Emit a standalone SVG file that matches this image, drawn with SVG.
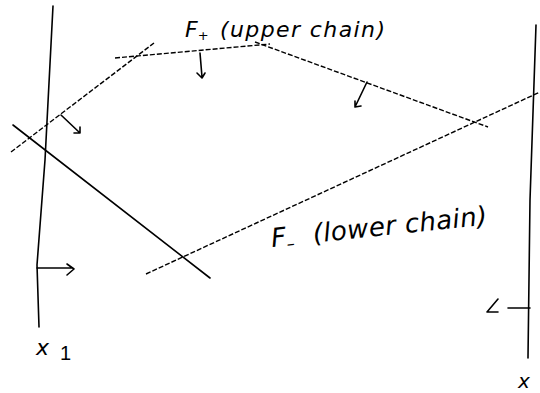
<svg xmlns="http://www.w3.org/2000/svg" width="540" height="393" viewBox="0 0 540 393">
<style>
.s{fill:none;stroke:#000;stroke-width:1.6;stroke-linecap:round;stroke-linejoin:round}
.d{fill:none;stroke:#000;stroke-width:1.4;stroke-dasharray:5 2}
.t{font-family:"DejaVu Sans",sans-serif;font-style:italic;fill:#000}
</style>
<rect width="540" height="393" fill="#fff"/>
<g id="axis-left">
<path class="s" d="M53,6 L45,160 L37,265 L39,327"/>
<path class="s" d="M37,268 L72,268 M67,264 L74,269 L67,275"/>
<text class="t" x="36" y="355" font-size="22">x</text>
<text x="60" y="360" font-family="Liberation Sans,sans-serif" font-size="20" fill="#000">1</text>
</g>
<g id="axis-right">
<path class="s" d="M536,25 L530,200 L528,358"/>
<path class="s" d="M508,308 L530,308 M498,299 L487,312 L498,312"/>
<text class="t" x="518" y="388" font-size="20">x</text>
</g>
<g id="upper-chain">
<path class="d" d="M11,152 L154,43"/>
<path class="d" d="M115,58 L270,44"/>
<path class="d" d="M255,42 L488,127"/>
<path class="s" d="M61,115 L80,133 M74,133 L80,133 L80,127"/>
<path class="s" d="M200,53 L202,77 M197,73 L202,78 L205,73"/>
<path class="s" d="M367,82 L355,107 M355,101 L355,107 L361,106"/>
<text class="t" x="185" y="37" font-size="22">F<tspan font-size="13" dy="3">+</tspan><tspan dy="-3" x="220" textLength="165" lengthAdjust="spacing">(upper chain)</tspan></text>
</g>
<g id="lower-chain">
<path class="s" d="M13,125 L210,278"/>
<path class="d" d="M146,274 L540,92"/>
<g transform="rotate(-6 272 247)">
<text class="t" x="272" y="247" font-size="26">F<tspan font-size="16" dy="4">–</tspan><tspan dy="-4" x="314" textLength="175" lengthAdjust="spacing">(lower chain)</tspan></text>
</g>
</g>
</svg>
